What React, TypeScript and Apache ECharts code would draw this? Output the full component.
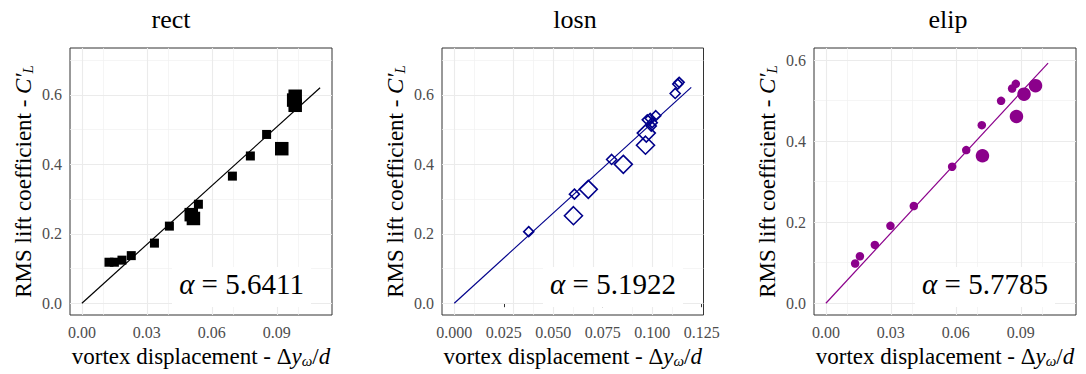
import React, { useEffect, useRef } from "react";
import * as echarts from "echarts";

// ---------- data ----------
const panelTitles = ["rect", "losn", "elip"];
const alphas = [5.6411, 5.1922, 5.7785];
const lineXEnd = [0.11, 0.1197, 0.1026];

const rectX = [0.0125, 0.015, 0.0185, 0.0228, 0.0335, 0.0404, 0.0505, 0.0515, 0.0538, 0.0695, 0.0778, 0.0853, 0.0923, 0.0978, 0.0985, 0.0985];
const rectY = [0.118, 0.118, 0.124, 0.137, 0.173, 0.222, 0.255, 0.244, 0.285, 0.366, 0.424, 0.486, 0.445, 0.585, 0.596, 0.57];
const rectBig = [0, 0, 0, 0, 0, 0, 1, 1, 0, 0, 0, 0, 1, 1, 1, 1];

const losnX = [0.0376, 0.0607, 0.0602, 0.0677, 0.0795, 0.0854, 0.0966, 0.097, 0.0975, 0.099, 0.1, 0.1018, 0.0995, 0.1116, 0.1129, 0.1136];
const losnY = [0.206, 0.314, 0.252, 0.328, 0.414, 0.4, 0.455, 0.49, 0.528, 0.532, 0.52, 0.54, 0.51, 0.604, 0.631, 0.636];
const losnBig = [0, 0, 1, 1, 0, 1, 1, 1, 0, 0, 0, 0, 0, 0, 0, 0];

const elipX = [0.0135, 0.0157, 0.0226, 0.0298, 0.0406, 0.0583, 0.0648, 0.072, 0.0723, 0.0809, 0.086, 0.0877, 0.088, 0.0915, 0.0968];
const elipY = [0.098, 0.116, 0.144, 0.191, 0.24, 0.337, 0.378, 0.4395, 0.364, 0.4995, 0.53, 0.5415, 0.461, 0.516, 0.537];
const elipBig = [0, 0, 0, 0, 0, 0, 0, 0, 1, 0, 0, 0, 1, 1, 1];

const xTicksA = [0, 0.03, 0.06, 0.09];
const xTickLabelsA = ["0.00", "0.03", "0.06", "0.09"];
const xMinorA = [0.015, 0.045, 0.075, 0.105];
const xTicksB = [0, 0.025, 0.05, 0.075, 0.1, 0.125];
const xTickLabelsB = ["0.000", "0.025", "0.050", "0.075", "0.100", "0.125"];
const xMinorB = [0.0125, 0.0375, 0.0625, 0.0875, 0.1125];
const yTicks = [0, 0.2, 0.4, 0.6];
const yTickLabels = ["0.0", "0.2", "0.4", "0.6"];
const yMinorAB = [0.1, 0.3, 0.5, 0.7];
const yMinorC = [0.1, 0.3, 0.5];

// ---------- layout / style ----------
const FONT = "'Liberation Serif', 'DejaVu Serif', serif";
const colors = ["#000000", "#00008B", "#8B008B"];
const grids = [
  { left: 70, top: 48, width: 262, height: 267 },
  { left: 442, top: 48, width: 261.5, height: 267 },
  { left: 814, top: 48, width: 262, height: 267 },
];
const xRanges = [[-0.0055, 0.1155], [-0.0062, 0.1259], [-0.0055, 0.1155]];
const yRanges = [[-0.034, 0.735], [-0.034, 0.735], [-0.029, 0.63]];
const titleX = [171, 575, 948];
const alphaBox = [
  { x: 172, w: 139 },
  { x: 543, w: 140 },
  { x: 915, w: 140 },
];

function gridLines(xMaj: number[], xMin: number[], yMaj: number[], yMin: number[]) {
  const maj = { color: "#EBEBEB", width: 1.1, type: "solid" };
  const min = { color: "#F1F1F1", width: 0.7, type: "solid" };
  return [
    ...xMin.map((v) => ({ xAxis: v, lineStyle: min })),
    ...yMin.map((v) => ({ yAxis: v, lineStyle: min })),
    ...xMaj.map((v) => ({ xAxis: v, lineStyle: maj })),
    ...yMaj.map((v) => ({ yAxis: v, lineStyle: maj })),
  ];
}

export default function App() {
  const ref = useRef<HTMLDivElement>(null);
  useEffect(() => {
    if (!ref.current) return;
    const chart = echarts.init(ref.current, null, { renderer: "svg" });

    const panels = [
      { xs: rectX, ys: rectY, big: rectBig, symbol: "rect", small: 9, large: 13.5, hollow: false, xT: xTicksA, xL: xTickLabelsA, xM: xMinorA, yM: yMinorAB },
      { xs: losnX, ys: losnY, big: losnBig, symbol: "diamond", small: 10, large: 18, hollow: true, xT: xTicksB, xL: xTickLabelsB, xM: xMinorB, yM: yMinorAB },
      { xs: elipX, ys: elipY, big: elipBig, symbol: "circle", small: 8.5, large: 13.5, hollow: false, xT: xTicksA, xL: xTickLabelsA, xM: xMinorA, yM: yMinorC },
    ];

    const TS = 23;
    const richMain = {
      i: { fontFamily: FONT, fontStyle: "italic", fontSize: TS, color: "#000" },
      n: { fontFamily: FONT, fontSize: TS, color: "#000" },
      sub: { fontFamily: FONT, fontStyle: "italic", fontSize: 15, color: "#000", padding: [9, 0, 0, 0] },
    };

    const xAxis: any[] = [];
    const yAxis: any[] = [];
    const series: any[] = [];
    const graphic: any[] = [];

    panels.forEach((p, k) => {
      const xLabelMap: Record<string, string> = {};
      p.xT.forEach((v, j) => (xLabelMap[String(v)] = p.xL[j]));
      xAxis.push({
        gridIndex: k,
        type: "value",
        min: xRanges[k][0],
        max: xRanges[k][1],
        axisLine: { show: false },
        splitLine: { show: false },
        axisTick: { show: true, customValues: p.xT, length: 4, lineStyle: { color: "#333", width: 1 } },
        axisLabel: {
          customValues: p.xT,
          formatter: (v: number) => xLabelMap[String(v)] ?? "",
          color: "#4D4D4D",
          fontFamily: FONT,
          fontSize: 16,
          margin: 9,
        },
        name: "{n|vortex displacement - Δ}{i|y}{sub|ω}{n|/}{i|d}",
        nameLocation: "middle",
        nameGap: 26,
        nameTextStyle: { fontFamily: FONT, fontSize: TS, color: "#000", rich: richMain },
      });
      yAxis.push({
        gridIndex: k,
        type: "value",
        min: yRanges[k][0],
        max: yRanges[k][1],
        axisLine: { show: false },
        splitLine: { show: false },
        axisTick: { show: true, customValues: yTicks, length: 4, lineStyle: { color: "#333", width: 1 } },
        axisLabel: {
          customValues: yTicks,
          formatter: (v: number) => yTickLabels[yTicks.indexOf(v)] ?? "",
          color: "#4D4D4D",
          fontFamily: FONT,
          fontSize: 16,
          margin: 8,
        },
        name: "{n|RMS lift coefficient - }{i|C′}{sub|L}",
        nameLocation: "middle",
        nameRotate: 90,
        nameGap: 35,
        nameTextStyle: { fontFamily: FONT, fontSize: TS, color: "#000", rich: richMain },
      });

      // gridlines
      series.push({
        type: "line",
        xAxisIndex: k,
        yAxisIndex: k,
        data: [],
        silent: true,
        z: 1,
        markLine: {
          silent: true,
          z: 1,
          animation: false,
          symbol: ["none", "none"],
          label: { show: false },
          emphasis: { disabled: true },
          data: gridLines(p.xT, p.xM, yTicks, p.yM),
        },
      });

      // fit line
      const lx = [0, lineXEnd[k]];
      series.push({
        type: "line",
        xAxisIndex: k,
        yAxisIndex: k,
        data: lx.map((x) => [x, alphas[k] * x]),
        showSymbol: false,
        symbol: "none",
        lineStyle: { color: colors[k], width: 1.2 },
        z: 3,
        silent: true,
      });

      // points
      series.push({
        type: "scatter",
        xAxisIndex: k,
        yAxisIndex: k,
        data: p.xs.map((x, j) => [x, p.ys[j], p.big[j]]),
        symbol: p.symbol,
        symbolSize: (v: number[]) => (v[2] ? p.large : p.small),
        itemStyle: p.hollow
          ? { color: "rgba(0,0,0,0)", borderColor: colors[k], borderWidth: 1.6, opacity: 1 }
          : { color: colors[k], opacity: 1 },
        z: 4,
        silent: true,
      });

      // title
      graphic.push({
        type: "text",
        x: titleX[k],
        y: 19,
        style: { text: panelTitles[k], fontFamily: FONT, fontSize: 26, fill: "#000", align: "center", verticalAlign: "middle" },
        z: 10,
      });
      // alpha label
      graphic.push({
        type: "rect",
        shape: { x: alphaBox[k].x, y: 267, width: alphaBox[k].w, height: 40 },
        style: { fill: "#ffffff" },
        z: 5,
      });
      graphic.push({
        type: "text",
        x: alphaBox[k].x + alphaBox[k].w / 2,
        y: 284,
        style: {
          text: "{a|α}{b| = " + alphas[k].toFixed(4) + "}",
          fontFamily: FONT,
          fontSize: 29,
          fill: "#000",
          align: "center",
          verticalAlign: "middle",
          rich: {
            a: { fontFamily: FONT, fontStyle: "italic", fontSize: 29, fill: "#000" },
            b: { fontFamily: FONT, fontSize: 29, fill: "#000" },
          },
        },
        z: 6,
      });
    });

    chart.setOption({
      animation: false,
      backgroundColor: "#ffffff",
      textStyle: { fontFamily: FONT },
      grid: grids.map((g) => ({
        ...g,
        show: true,
        backgroundColor: "#ffffff",
        borderColor: "#333333",
        borderWidth: 1,
        containLabel: false,
      })),
      xAxis,
      yAxis,
      series,
      graphic,
    });
    return () => chart.dispose();
  }, []);

  return <div ref={ref} style={{ position: "fixed", left: 0, top: 0, width: 1086, height: 374 }} />;
}
